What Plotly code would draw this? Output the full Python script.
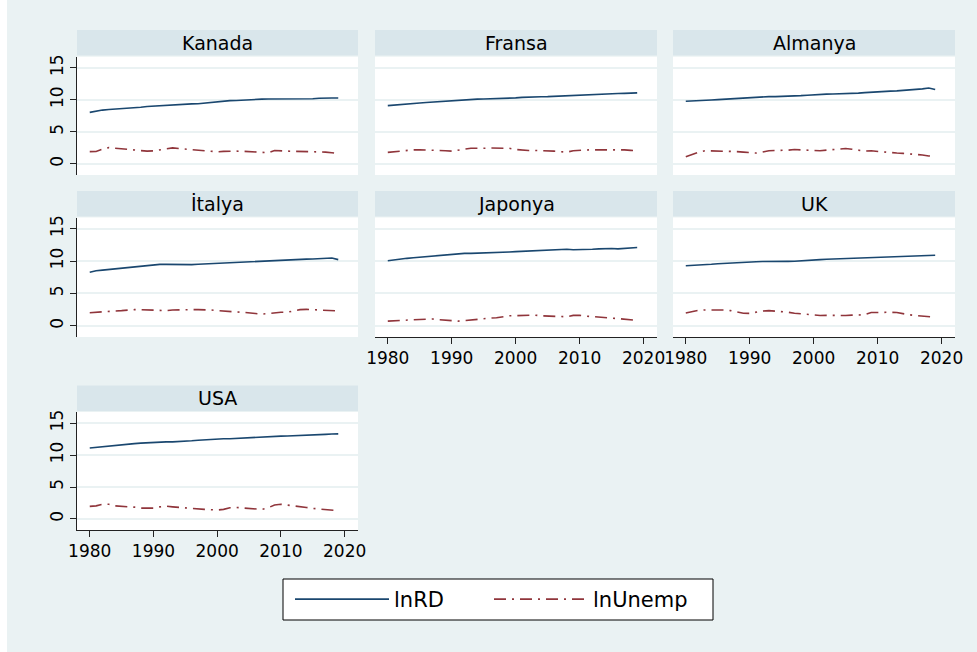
import plotly.graph_objects as go

years = list(range(1980, 2020))
countries = ["Kanada", "Fransa", "Almanya", "İtalya", "Japonya", "UK", "USA"]

kanada_rd = [8.04, 8.25, 8.40, 8.50, 8.55, 8.65, 8.72, 8.80, 8.85, 8.95, 9.02, 9.10, 9.18, 9.25, 9.32, 9.35, 9.36, 9.38, 9.50, 9.62,
             9.75, 9.85, 9.88, 9.90, 9.97, 10.03, 10.07, 10.10, 10.12, 10.12, 10.13, 10.14, 10.15, 10.17, 10.19, 10.17, 10.25, 10.30, 10.29, 10.28]
kanada_un = [1.92, 1.95, 2.30, 2.55, 2.45, 2.35, 2.30, 2.20, 2.05, 2.00, 2.05, 2.20, 2.35, 2.50, 2.40, 2.30, 2.30, 2.20, 2.10, 2.00,
             1.90, 1.97, 2.02, 2.00, 1.98, 1.90, 1.80, 1.78, 1.75, 2.10, 2.10, 2.00, 1.98, 1.95, 1.90, 1.90, 1.93, 1.85, 1.75, 1.65]
fransa_rd = [9.10, 9.20, 9.30, 9.38, 9.45, 9.50, 9.58, 9.65, 9.72, 9.80, 9.90, 9.97, 10.03, 10.08, 10.10, 10.13, 10.15, 10.17, 10.20, 10.25,
             10.30, 10.38, 10.45, 10.48, 10.48, 10.50, 10.55, 10.62, 10.68, 10.72, 10.75, 10.80, 10.85, 10.88, 10.92, 10.95, 10.98, 11.00, 11.05, 11.08]
fransa_un = [1.80, 1.90, 2.00, 2.15, 2.20, 2.22, 2.20, 2.15, 2.10, 2.05, 2.00, 2.10, 2.30, 2.45, 2.50, 2.45, 2.48, 2.50, 2.50, 2.45,
             2.25, 2.12, 2.10, 2.10, 2.10, 2.05, 2.00, 1.92, 1.85, 2.05, 2.15, 2.18, 2.20, 2.22, 2.24, 2.25, 2.25, 2.20, 2.12, 2.05]
almanya_rd = [9.78, 9.80, 9.85, 9.90, 9.97, 10.03, 10.10, 10.17, 10.25, 10.32, 10.38, 10.45, 10.48, 10.50, 10.50, 10.52, 10.55, 10.60, 10.65, 10.72,
              10.80, 10.85, 10.88, 10.90, 10.92, 10.95, 11.00, 11.05, 11.12, 11.15, 11.20, 11.28, 11.35, 11.40, 11.45, 11.52, 11.60, 11.70, 11.85, 11.62]
almanya_un = [1.13, 1.50, 1.85, 2.06, 2.05, 2.05, 2.00, 1.97, 1.93, 1.85, 1.75, 1.70, 1.85, 2.05, 2.10, 2.10, 2.15, 2.25, 2.20, 2.10,
              2.00, 2.05, 2.15, 2.25, 2.35, 2.40, 2.30, 2.15, 2.00, 2.05, 1.95, 1.80, 1.72, 1.70, 1.65, 1.60, 1.50, 1.40, 1.25, 1.15]
italya_rd = [8.28, 8.50, 8.60, 8.70, 8.80, 8.95, 9.05, 9.15, 9.25, 9.35, 9.45, 9.48, 9.48, 9.45, 9.42, 9.40, 9.45, 9.50, 9.55, 9.62,
             9.70, 9.75, 9.80, 9.83, 9.85, 9.85, 9.90, 10.00, 10.08, 10.10, 10.12, 10.15, 10.20, 10.25, 10.30, 10.32, 10.38, 10.45, 10.47, 10.22]
italya_un = [2.03, 2.07, 2.15, 2.25, 2.30, 2.35, 2.45, 2.50, 2.50, 2.45, 2.35, 2.30, 2.35, 2.45, 2.50, 2.50, 2.50, 2.50, 2.50, 2.45,
             2.35, 2.25, 2.20, 2.15, 2.10, 2.05, 1.90, 1.80, 1.90, 2.05, 2.10, 2.10, 2.35, 2.50, 2.55, 2.50, 2.45, 2.40, 2.35, 2.30]
japonya_rd = [10.05, 10.20, 10.30, 10.42, 10.52, 10.60, 10.65, 10.75, 10.85, 10.98, 11.08, 11.15, 11.18, 11.18, 11.20, 11.25, 11.30, 11.35, 11.38, 11.40,
              11.45, 11.50, 11.52, 11.55, 11.58, 11.62, 11.70, 11.78, 11.82, 11.75, 11.75, 11.80, 11.82, 11.88, 11.92, 11.93, 11.88, 11.92, 11.95, 12.10]
japonya_un = [0.73, 0.80, 0.88, 0.95, 0.97, 0.99, 1.02, 1.05, 0.95, 0.85, 0.75, 0.73, 0.80, 0.92, 1.05, 1.15, 1.20, 1.25, 1.40, 1.55,
              1.57, 1.62, 1.66, 1.65, 1.55, 1.50, 1.42, 1.35, 1.40, 1.62, 1.62, 1.50, 1.45, 1.40, 1.25, 1.20, 1.12, 1.05, 0.90, 0.85]
uk_rd = [9.27, 9.30, 9.35, 9.42, 9.50, 9.58, 9.65, 9.72, 9.80, 9.85, 9.90, 9.90, 9.92, 9.95, 10.00, 9.98, 9.95, 9.96, 10.00, 10.10,
         10.18, 10.22, 10.28, 10.32, 10.35, 10.40, 10.45, 10.50, 10.55, 10.57, 10.60, 10.62, 10.62, 10.65, 10.70, 10.75, 10.80, 10.85, 10.90, 10.90]
uk_un = [1.98, 2.20, 2.40, 2.45, 2.47, 2.45, 2.45, 2.35, 2.15, 1.95, 1.93, 2.15, 2.30, 2.35, 2.30, 2.20, 2.10, 1.95, 1.85, 1.80,
         1.70, 1.60, 1.62, 1.58, 1.55, 1.60, 1.65, 1.65, 1.72, 2.05, 2.10, 2.10, 2.10, 2.05, 1.85, 1.70, 1.60, 1.50, 1.40, 1.33]
usa_rd = [11.10, 11.20, 11.30, 11.42, 11.55, 11.68, 11.72, 11.78, 11.85, 11.92, 11.98, 12.02, 12.05, 12.05, 12.08, 12.15, 12.22, 12.30, 12.38, 12.45,
          12.52, 12.55, 12.55, 12.60, 12.65, 12.72, 12.80, 12.88, 12.95, 12.95, 12.95, 12.98, 13.00, 13.05, 13.08, 13.12, 13.17, 13.22, 13.28, 13.30]
usa_un = [1.97, 2.05, 2.30, 2.30, 2.05, 2.00, 1.95, 1.85, 1.70, 1.65, 1.70, 1.90, 2.00, 1.90, 1.80, 1.70, 1.68, 1.60, 1.50, 1.45,
          1.40, 1.50, 1.75, 1.80, 1.70, 1.60, 1.50, 1.50, 1.75, 2.20, 2.30, 2.20, 2.10, 2.00, 1.80, 1.65, 1.55, 1.45, 1.35, 1.30]

rd_series = [kanada_rd, fransa_rd, almanya_rd, italya_rd, japonya_rd, uk_rd, usa_rd]
un_series = [kanada_un, fransa_un, almanya_un, italya_un, japonya_un, uk_un, usa_un]

x_ticks = [1980, 1990, 2000, 2010, 2020]
y_ticks = [0, 5, 10, 15]

W, H = 977, 652
BG = "#EAF2F3"
STRIP = "#D9E6EB"
NAVY = "#1A476F"
MAROON = "#90353B"
FONT = "DejaVu Sans"

col_px = [(77, 358), (375, 657), (673, 955)]
row_px = [(56.7, 175), (217.5, 337), (412, 530)]
strip_px = [(30, 55.5), (191, 216.5), (385.5, 411)]
positions = [(0, 0), (0, 1), (0, 2), (1, 0), (1, 1), (1, 2), (2, 0)]
show_x = [False, False, False, False, True, True, True]

fig = go.Figure()
layout = {}
shapes = []
annotations = []

for i, (name, rd, un) in enumerate(zip(countries, rd_series, un_series)):
    r, c = positions[i]
    n = i + 1
    xa = "x" if n == 1 else f"x{n}"
    ya = "y" if n == 1 else f"y{n}"
    fig.add_trace(go.Scatter(x=years, y=rd, mode="lines", name="lnRD", legendgroup="rd",
                             legend="legend", showlegend=(i == 0),
                             line=dict(color=NAVY, width=1.6), xaxis=xa, yaxis=ya))
    fig.add_trace(go.Scatter(x=years, y=un, mode="lines", name="lnUnemp", legendgroup="un",
                             legend="legend2", showlegend=(i == 0),
                             line=dict(color=MAROON, width=1.6, dash="12px,6px,2px,6px"),
                             xaxis=xa, yaxis=ya))
    x0, x1 = col_px[c]
    y0, y1 = row_px[r]
    xd = [x0 / W, x1 / W]
    yd = [1 - y1 / H, 1 - y0 / H]
    xkey = "xaxis" if n == 1 else f"xaxis{n}"
    ykey = "yaxis" if n == 1 else f"yaxis{n}"
    sx = show_x[i]
    sy = (c == 0)
    layout[xkey] = dict(domain=xd, anchor=ya, range=[1978, 2022.1], showgrid=False, zeroline=False,
                        tickvals=x_ticks if sx else [], showticklabels=sx,
                        ticks="outside" if sx else "", ticklen=6, tickwidth=1, tickcolor="#222",
                        showline=sx, linecolor="#222", linewidth=1, automargin=False,
                        tickfont=dict(family=FONT, size=17, color="black"))
    layout[ykey] = dict(domain=yd, anchor=xa, range=[-1.72, 16.72], showgrid=True, gridcolor=BG,
                        gridwidth=2, zeroline=False, tickvals=y_ticks, showticklabels=sy,
                        ticks="outside" if sy else "", ticklen=6, tickwidth=1, tickcolor="#222",
                        showline=sy, linecolor="#222", linewidth=1, tickangle=-90, automargin=False,
                        tickfont=dict(family=FONT, size=17, color="black"))
    s0, s1 = strip_px[r]
    shapes.append(dict(type="rect", xref="paper", yref="paper", x0=x0 / W, x1=x1 / W,
                       y0=1 - s1 / H, y1=1 - s0 / H, fillcolor=STRIP, line=dict(width=0),
                       layer="below"))
    annotations.append(dict(text=name, xref="paper", yref="paper", x=(x0 + x1) / 2 / W,
                            y=1 - (s0 + s1) / 2 / H, xanchor="center", yanchor="middle",
                            showarrow=False, font=dict(family=FONT, size=19, color="black")))

# white strip at the left edge of the image
shapes.append(dict(type="rect", xref="paper", yref="paper", x0=0, x1=7 / W, y0=0, y1=1,
                   fillcolor="white", line=dict(width=0), layer="below"))
# legend frame
shapes.append(dict(type="rect", xref="paper", yref="paper", x0=283 / W, x1=713 / W,
                   y0=1 - 620 / H, y1=1 - 579 / H, fillcolor="white",
                   line=dict(color="black", width=1), layer="above"))

leg_common = dict(orientation="h", xanchor="left", yanchor="middle", y=1 - 599.5 / H,
                  bgcolor="rgba(0,0,0,0)", borderwidth=0,
                  font=dict(family=FONT, size=21, color="black"), itemwidth=94)

fig.update_layout(
    width=W, height=H,
    margin=dict(l=0, r=0, t=0, b=0, autoexpand=False),
    paper_bgcolor=BG, plot_bgcolor="white",
    shapes=shapes, annotations=annotations,
    showlegend=True,
    legend=dict(x=290 / W, **leg_common),
    legend2=dict(x=489 / W, **leg_common),
    **layout,
)

fig.write_html("out.html", config={"displayModeBar": False},
               post_script="document.body.style.margin='0';document.body.style.overflow='hidden';")
